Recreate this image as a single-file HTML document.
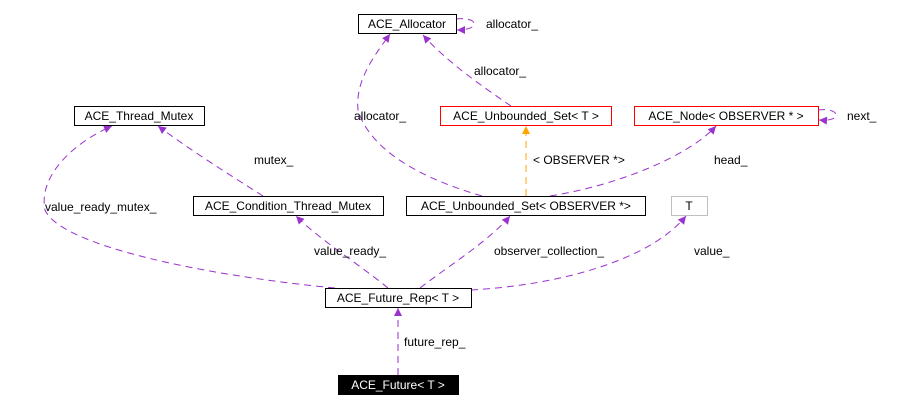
<!DOCTYPE html>
<html><head><meta charset="utf-8"><style>
html,body{margin:0;padding:0;background:#fff;}
svg{display:block;}
text{font-family:"Liberation Sans",Arial,sans-serif;font-size:12px;fill:#000;}
</style></head><body>
<svg width="897" height="411" viewBox="0 0 897 411" xmlns="http://www.w3.org/2000/svg">
<defs>
<marker id="p" viewBox="0 0 10 10" refX="10" refY="5" markerWidth="10" markerHeight="8" markerUnits="userSpaceOnUse" orient="auto"><path d="M0,0 L10,5 L0,10 z" fill="#9a32cd"/></marker>
<marker id="o" viewBox="0 0 10 10" refX="10" refY="5" markerWidth="10" markerHeight="8" markerUnits="userSpaceOnUse" orient="auto"><path d="M0,0 L10,5 L0,10 z" fill="#ffa500"/></marker>
</defs>
<g fill="none" stroke="#9a32cd" stroke-width="1" stroke-dasharray="7,5">
<path d="M398,375 L398,308" marker-end="url(#p)"/>
<path d="M335,288 C200,275 60,245 45,210 C38,175 75,142 112,126" marker-end="url(#p)"/>
<path d="M388,288 C360,265 320,240 296,216" marker-end="url(#p)"/>
<path d="M420,288 C450,265 490,240 510,216" marker-end="url(#p)"/>
<path d="M471,290 C560,285 650,260 686,216" marker-end="url(#p)"/>
<path d="M263,196 C230,175 190,150 158,126" marker-end="url(#p)"/>
<path d="M482,196 C420,178 370,150 358,110 C355,80 375,55 390,34" marker-end="url(#p)"/>
<path d="M550,196 C620,185 690,155 716,126" marker-end="url(#p)"/>
<path d="M511,106 C480,85 445,60 423,35" marker-end="url(#p)"/>
<path d="M456,19 C478,16 482,30 457,30" marker-end="url(#p)"/>
<path d="M818,110 C840,107 844,122 819,120" marker-end="url(#p)"/>
</g>
<path d="M526,196 L526,126" stroke="#ffa500" stroke-dasharray="7,5" fill="none" marker-end="url(#o)"/>
<g stroke-width="1" fill="#fff">
<rect x="358.5" y="14.5" width="98" height="19" stroke="#000"/>
<rect x="440.5" y="106.5" width="171" height="19" stroke="#f00"/>
<rect x="634.5" y="106.5" width="184" height="19" stroke="#f00"/>
<rect x="74.5" y="106.5" width="130" height="19" stroke="#000"/>
<rect x="193.5" y="196.5" width="190" height="19" stroke="#000"/>
<rect x="406.5" y="196.5" width="239" height="19" stroke="#000"/>
<rect x="671.5" y="196.5" width="36" height="19" stroke="#bfbfbf"/>
<rect x="325.5" y="288.5" width="146" height="19" stroke="#000"/>
<rect x="338" y="375" width="121" height="20" fill="#000" stroke="none"/>
</g>
<g text-anchor="middle">
<text x="407" y="28">ACE_Allocator</text>
<text x="526" y="120">ACE_Unbounded_Set&lt; T &gt;</text>
<text x="726" y="120">ACE_Node&lt; OBSERVER * &gt;</text>
<text x="139" y="120">ACE_Thread_Mutex</text>
<text x="288" y="210">ACE_Condition_Thread_Mutex</text>
<text x="526" y="210">ACE_Unbounded_Set&lt; OBSERVER *&gt;</text>
<text x="689" y="210">T</text>
<text x="398" y="302">ACE_Future_Rep&lt; T &gt;</text>
<text x="398" y="389" style="fill:#fff">ACE_Future&lt; T &gt;</text>
</g>
<text x="486" y="28">allocator_</text>
<text x="474" y="75">allocator_</text>
<text x="354" y="120">allocator_</text>
<text x="847" y="120">next_</text>
<text x="533" y="164">&lt; OBSERVER *&gt;</text>
<text x="714" y="164">head_</text>
<text x="254" y="164">mutex_</text>
<text x="45" y="211">value_ready_mutex_</text>
<text x="314" y="255">value_ready_</text>
<text x="494" y="255">observer_collection_</text>
<text x="694" y="255">value_</text>
<text x="404" y="346">future_rep_</text>
</svg>
</body></html>
